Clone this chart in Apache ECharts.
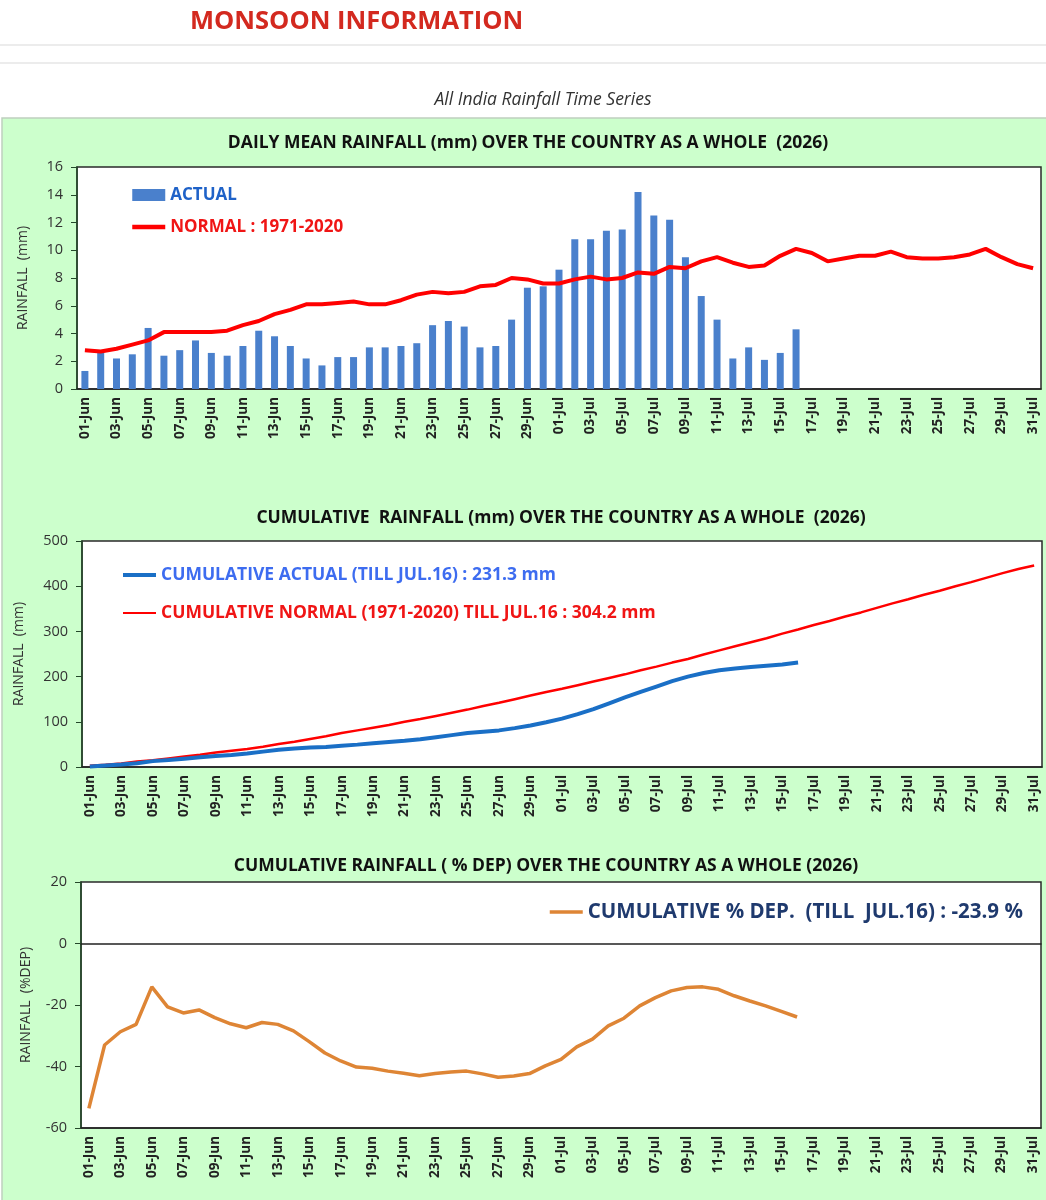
<!DOCTYPE html>
<html>
<head>
	<meta charset="utf-8" />
	<title>Monsoon Information - All India Rainfall Time Series</title>
	<script src="https://cdn.jsdelivr.net/npm/echarts@6/dist/echarts.min.js"></script>
	<style>
		body { margin: 0; background: #fff; }
		#main { width: 1046px; height: 1200px; }
	</style>
</head>
<body>
	<div id="main"></div>
	<script type="text/javascript">

		// day categories, 01-Jun .. 31-Jul
		var days = ['01-Jun','02-Jun','03-Jun','04-Jun','05-Jun','06-Jun','07-Jun','08-Jun','09-Jun','10-Jun',
			'11-Jun','12-Jun','13-Jun','14-Jun','15-Jun','16-Jun','17-Jun','18-Jun','19-Jun','20-Jun',
			'21-Jun','22-Jun','23-Jun','24-Jun','25-Jun','26-Jun','27-Jun','28-Jun','29-Jun','30-Jun',
			'01-Jul','02-Jul','03-Jul','04-Jul','05-Jul','06-Jul','07-Jul','08-Jul','09-Jul','10-Jul',
			'11-Jul','12-Jul','13-Jul','14-Jul','15-Jul','16-Jul','17-Jul','18-Jul','19-Jul','20-Jul',
			'21-Jul','22-Jul','23-Jul','24-Jul','25-Jul','26-Jul','27-Jul','28-Jul','29-Jul','30-Jul','31-Jul'];

		// daily mean rainfall (mm)
		var dailyActual = [1.3, 2.7, 2.2, 2.5, 4.4, 2.4, 2.8, 3.5, 2.6, 2.4, 3.1, 4.2, 3.8, 3.1, 2.2, 1.7, 2.3, 2.3, 3.0, 3.0,
			3.1, 3.3, 4.6, 4.9, 4.5, 3.0, 3.1, 5.0, 7.3, 7.4, 8.6, 10.8, 10.8, 11.4, 11.5, 14.2, 12.5, 12.2, 9.5, 6.7,
			5.0, 2.2, 3.0, 2.1, 2.6, 4.3];
		var dailyNormal = [2.8, 2.7, 2.9, 3.2, 3.5, 4.1, 4.1, 4.1, 4.1, 4.2, 4.6, 4.9, 5.4, 5.7, 6.1, 6.1, 6.2, 6.3, 6.1, 6.1,
			6.4, 6.8, 7.0, 6.9, 7.0, 7.4, 7.5, 8.0, 7.9, 7.6, 7.6, 7.9, 8.1, 7.9, 8.0, 8.4, 8.3, 8.8, 8.7, 9.2,
			9.5, 9.1, 8.8, 8.9, 9.6, 10.1, 9.8, 9.2, 9.4, 9.6, 9.6, 9.9, 9.5, 9.4, 9.4, 9.5, 9.7, 10.1, 9.5, 9.0, 8.7];

		// cumulative rainfall (mm)
		var cumActual = [1.3, 3.5, 5.5, 8.5, 13, 15.5, 18.5, 21.5, 24.5, 26.5, 30, 34, 38, 41, 43, 44.5, 47, 49.5, 52.5, 55.5,
			58, 61.5, 66, 70.5, 75, 78, 81, 86, 92, 99, 107, 117, 128, 141, 154, 166, 178, 190, 200, 208,
			214, 218, 221, 224, 227, 231.3];
		var cumNormal = [3, 5, 8, 12, 15, 19, 23, 27, 32, 36, 40, 45, 51, 56, 62, 68, 75, 81, 87, 93,
			100, 106, 113, 120, 127, 135, 142, 150, 158, 166, 173, 181, 189, 197, 205, 214, 222, 231, 239, 249,
			258, 267, 276, 285, 295, 304.2, 314, 323, 333, 342, 352, 362, 371, 381, 390, 400, 409, 419, 429, 438, 446];

		// cumulative % departure
		var cumDep = [-53.6, -33, -28.7, -26.3, -14.1, -20.6, -22.6, -21.6, -24.1, -26.1, -27.4, -25.7, -26.3, -28.4, -31.9,
			-35.6, -38.2, -40.2, -40.6, -41.5, -42.2, -43.0, -42.3, -41.8, -41.5, -42.4, -43.5, -43.1, -42.3, -39.8,
			-37.7, -33.6, -31.1, -26.8, -24.3, -20.3, -17.6, -15.4, -14.3, -14.1, -14.9, -17.0, -18.7, -20.3, -22.1, -23.9];

		var FONT = 'Open Sans';

		var myChart = echarts.init(document.getElementById('main'));

		// shared axis styles
		function dayAxis(grid) {
			return {
				type: 'category', gridIndex: grid, data: days, boundaryGap: true,
				axisLine: { lineStyle: { color: '#222', width: 1.5 } },
				axisTick: { interval: 0, length: 5, lineStyle: { color: '#222' } },
				axisLabel: { interval: 1, rotate: 90, margin: 8, color: '#222', fontFamily: FONT, fontSize: 13.5, fontWeight: 'bold' }
			};
		}
		function valAxis(grid, min, max, step, name, gap) {
			return {
				type: 'value', gridIndex: grid, min: min, max: max, interval: step,
				splitLine: { show: false },
				axisLine: { show: true, lineStyle: { color: '#24482a', width: 1.5 } },
				axisTick: { show: true, length: 6, lineStyle: { color: '#24482a' } },
				axisLabel: { margin: 14, color: '#333', fontFamily: FONT, fontSize: 14.5 },
				name: name, nameLocation: 'middle', nameGap: gap,
				nameTextStyle: { color: '#333', fontFamily: FONT, fontSize: 14 }
			};
		}
		var titleStyle = { color: '#111', fontFamily: FONT, fontSize: 17.5, fontWeight: 'bold' };
		var gridBox = { show: true, backgroundColor: '#fff', borderColor: '#2a2a2a', borderWidth: 1.5 };

		var xLabels = dayAxis(2);
		xLabels.axisLine.onZero = false;
		xLabels.axisTick = { show: false };
		var xZero = dayAxis(2);
		xZero.position = 'bottom';
		xZero.axisLine.onZero = true;
		xZero.axisLabel = { show: false };
		xZero.axisTick.length = 6;

		var option = {
			animation: false,
			backgroundColor: '#fff',
			title: [
				{ text: 'MONSOON INFORMATION', left: 190, top: 9, padding: 0,
					textStyle: { color: '#d3291f', fontFamily: FONT, fontSize: 25.5, fontWeight: 'bold' } },
				{ text: 'All India Rainfall Time Series', left: 543, top: 91, padding: 0, textAlign: 'center',
					textStyle: { color: '#333', fontFamily: FONT, fontSize: 17.5, fontStyle: 'italic', fontWeight: 'normal' } },
				{ text: 'DAILY MEAN RAINFALL (mm) OVER THE COUNTRY AS A WHOLE  (2026)', left: 528, top: 134, padding: 0, textAlign: 'center', textStyle: titleStyle },
				{ text: 'CUMULATIVE  RAINFALL (mm) OVER THE COUNTRY AS A WHOLE  (2026)', left: 561, top: 509, padding: 0, textAlign: 'center', textStyle: titleStyle },
				{ text: 'CUMULATIVE RAINFALL ( % DEP) OVER THE COUNTRY AS A WHOLE (2026)', left: 546, top: 857, padding: 0, textAlign: 'center', textStyle: titleStyle }
			],
			graphic: [
				{ type: 'line', z: -1, shape: { x1: 0, y1: 45, x2: 1046, y2: 45 }, style: { stroke: '#e6e6e6', lineWidth: 1.5 } },
				{ type: 'line', z: -1, shape: { x1: 0, y1: 63, x2: 1046, y2: 63 }, style: { stroke: '#e6e6e6', lineWidth: 1.5 } },
				{ type: 'rect', z: -1, shape: { x: 2, y: 118, width: 1050, height: 1090 }, style: { fill: '#ccffcc', stroke: '#bfcfbf', lineWidth: 1.5 } }
			],
			legend: [
				{ left: 130, top: 184, padding: 0, orient: 'vertical', itemWidth: 33, itemHeight: 12, itemGap: 10, selectedMode: false,
					textStyle: { fontFamily: FONT, fontSize: 17, fontWeight: 'bold', lineHeight: 22 },
					data: [
						{ name: 'ACTUAL', icon: 'rect', textStyle: { color: '#1f62c8' } },
						{ name: 'NORMAL : 1971-2020', itemStyle: { opacity: 0 }, lineStyle: { width: 4.5 }, textStyle: { color: '#f01515' } }
					] },
				{ left: 121, top: 564, padding: 0, orient: 'vertical', itemWidth: 33, itemHeight: 12, itemGap: 16, selectedMode: false,
					textStyle: { fontFamily: FONT, fontSize: 17.5, fontWeight: 'bold', lineHeight: 22 },
					data: [
						{ name: 'CUMULATIVE ACTUAL (TILL JUL.16) : 231.3 mm', itemStyle: { opacity: 0 }, lineStyle: { width: 4 }, textStyle: { color: '#3d6cf0' } },
						{ name: 'CUMULATIVE NORMAL (1971-2020) TILL JUL.16 : 304.2 mm', itemStyle: { opacity: 0 }, lineStyle: { width: 2 }, textStyle: { color: '#f01515' } }
					] },
				{ left: 548, top: 899, padding: 0, orient: 'vertical', itemWidth: 33, itemHeight: 12, selectedMode: false,
					textStyle: { fontFamily: FONT, fontSize: 20.5, fontWeight: 'bold', lineHeight: 26, color: '#1f3a6e' },
					data: [
						{ name: 'CUMULATIVE % DEP.  (TILL  JUL.16) : -23.9 %', itemStyle: { opacity: 0 }, lineStyle: { width: 3.5 } }
					] }
			],
			grid: [
				Object.assign({ left: 77, top: 167, width: 964, height: 222 }, gridBox),
				Object.assign({ left: 82, top: 541, width: 960, height: 226 }, gridBox),
				Object.assign({ left: 81, top: 882, width: 960, height: 246 }, gridBox)
			],
			xAxis: [dayAxis(0), dayAxis(1), xLabels, xZero],
			yAxis: [
				valAxis(0, 0, 16, 2, 'RAINFALL  (mm)', 47),
				valAxis(1, 0, 500, 100, 'RAINFALL  (mm)', 56),
				valAxis(2, -60, 20, 20, 'RAINFALL  (%DEP)', 48)
			],
			series: [
				{ name: 'ACTUAL', type: 'bar', xAxisIndex: 0, yAxisIndex: 0, data: dailyActual, barWidth: 7,
					itemStyle: { color: '#4a80cc' } },
				{ name: 'NORMAL : 1971-2020', type: 'line', xAxisIndex: 0, yAxisIndex: 0, data: dailyNormal,
					symbol: 'none', lineStyle: { color: '#ff0000', width: 4 }, itemStyle: { color: '#ff0000' } },
				{ name: 'CUMULATIVE NORMAL (1971-2020) TILL JUL.16 : 304.2 mm', type: 'line', xAxisIndex: 1, yAxisIndex: 1, data: cumNormal,
					symbol: 'none', lineStyle: { color: '#ff0000', width: 2.5 }, itemStyle: { color: '#ff0000' } },
				{ name: 'CUMULATIVE ACTUAL (TILL JUL.16) : 231.3 mm', type: 'line', xAxisIndex: 1, yAxisIndex: 1, data: cumActual,
					symbol: 'none', lineStyle: { color: '#1a6fc6', width: 4 }, itemStyle: { color: '#1a6fc6' } },
				{ name: 'CUMULATIVE % DEP.  (TILL  JUL.16) : -23.9 %', type: 'line', xAxisIndex: 2, yAxisIndex: 2, data: cumDep,
					symbol: 'none', lineStyle: { color: '#de8535', width: 3.5 }, itemStyle: { color: '#de8535' } }
			]
		};

		myChart.setOption(option);

	</script>
</body>
</html>
